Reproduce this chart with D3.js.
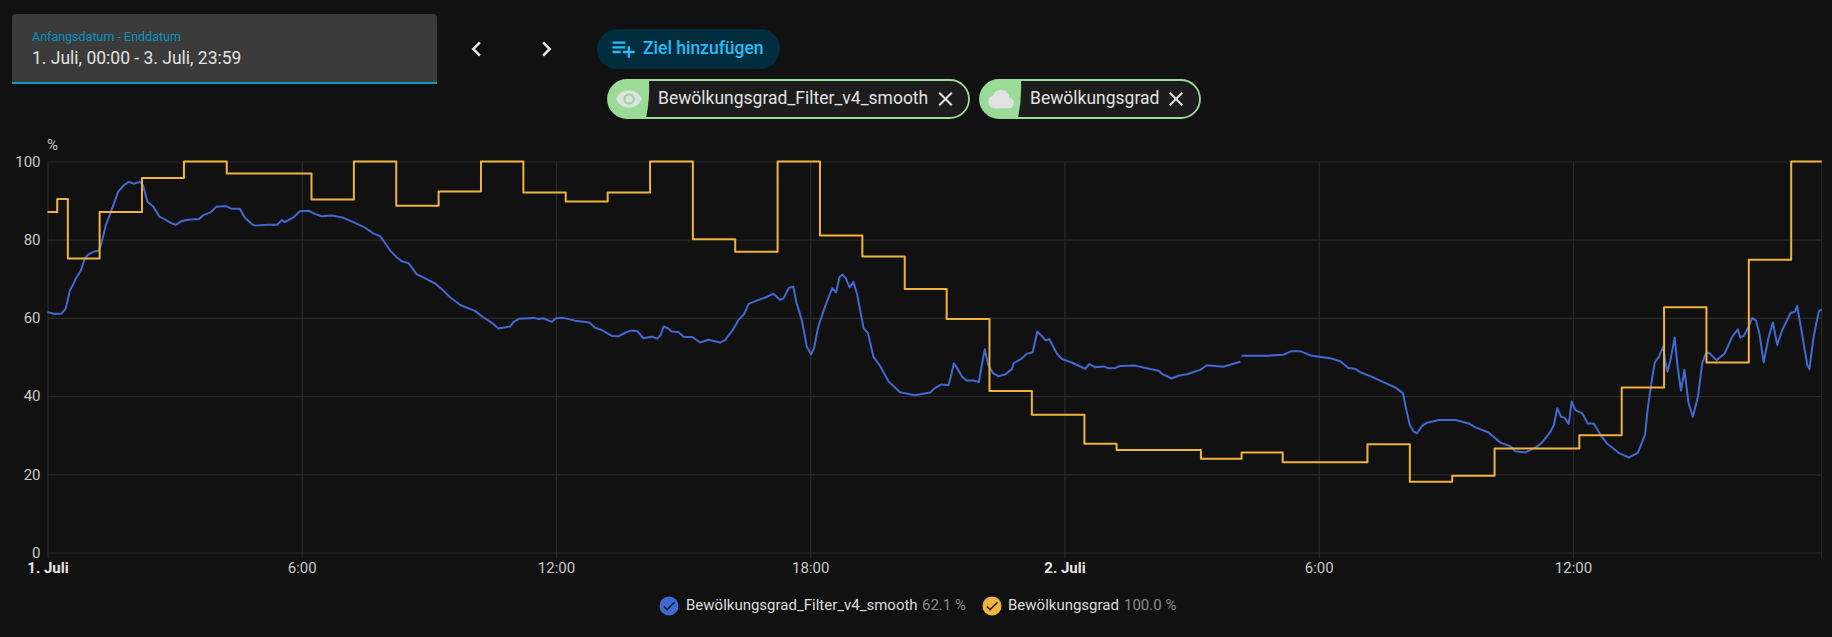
<!DOCTYPE html>
<html>
<head>
<meta charset="utf-8">
<script src="https://cdn.jsdelivr.net/npm/d3@7"></script>
<style>
  html, body { margin: 0; padding: 0; background: #111111; overflow: hidden; }
  svg { display: block; font-family: Roboto, sans-serif; }
</style>
</head>
<body>
<script>
// hours since 1. Juli 00:00
const stepHours = [0,0.23,0.48,1.23,2.23,3.22,4.23,6.23,7.23,8.23,9.23,10.23,11.23,12.23,13.22,14.22,15.23,16.23,17.23,18.23,19.23,20.23,21.22,22.23,23.23,24.47,25.23,27.22,28.18,29.15,31.15,32.15,33.15,34.15,36.15,37.15,38.15,39.15,40.15,41.15,41.87];
const stepValues = [87.1,90.4,75.2,87.1,95.8,100,96.9,90.3,100,88.7,92.3,100,92.1,89.8,92.1,100,80.1,76.9,100,81.1,75.7,67.4,59.7,41.3,35.2,27.8,26.2,24,25.6,23.1,27.7,18.1,19.6,26.6,30,42.2,62.7,48.6,74.9,100,100];

const smoothHours = [
  0,.17,.33,.43,.53,.59,.67,.79,.88,.96,1.08,1.21,1.26,1.38,1.54,1.67,1.81,1.92,2.04,2.18,2.25,2.36,2.5,2.64,2.77,2.93,3.03,3.17,3.32,3.58,3.68,3.85,3.98,4.21,4.35,4.54,4.66,4.82,4.9,5.17,5.42,5.53,5.6,5.8,5.96,6.16,6.31,6.47,6.71,6.98,7.22,7.46,7.69,7.85,7.97,8.09,8.24,8.36,8.52,8.71,8.91,9.15,9.31,9.5,9.74,
  10.09,10.29,10.48,10.64,10.92,11,11.14,11.47,11.59,11.7,11.9,12,12.18,12.45,12.79,12.92,13.08,13.32,13.47,13.63,13.79,13.92,14.06,14.26,14.39,14.47,14.54,14.65,14.73,14.89,15.01,15.22,15.4,15.6,15.87,15.99,16.19,16.31,16.44,16.55,16.78,16.94,17.13,17.29,17.37,17.5,17.6,17.68,17.8,17.92,18.02,18.09,18.19,18.35,18.47,18.52,18.61,18.69,18.76,18.84,18.93,19.02,19.11,19.26,19.36,19.49,19.65,19.85,20,20.12,
  20.47,20.83,20.95,21.1,21.26,21.32,21.39,21.47,21.58,21.69,21.85,21.98,22.05,22.12,22.2,22.32,22.44,22.6,22.76,22.8,22.99,23.11,23.25,23.36,23.46,23.56,23.64,23.82,23.94,24.17,24.49,24.59,24.72,24.92,25.04,25.2,25.31,25.67,25.86,26.22,26.3,26.53,26.69,26.89,27.2,27.36,27.75,28.15,28.165,
  28.18,28.77,29.17,29.36,29.56,29.84,30.27,30.51,30.7,30.86,30.98,31.26,31.5,31.81,31.99,32.05,32.15,32.24,32.32,32.44,32.56,32.83,33.23,33.54,33.7,34.01,34.29,34.53,34.64,34.88,35.12,35.27,35.47,35.55,35.63,35.72,35.8,35.9,35.97,36.06,36.22,36.35,36.49,36.65,36.81,37.08,37.32,37.53,37.7,37.77,37.85,37.93,38.03,38.13,38.18,38.23,38.3,38.4,38.47,38.55,38.63,38.73,38.83,38.95,39.05,39.13,39.21,39.39,39.58,39.76,39.89,39.95,40.03,40.15,40.23,40.32,40.4,40.5,40.62,40.72,40.82,40.94,41.13,41.24,41.29,41.39,41.53,41.58,41.68,41.8,41.87
];
const smoothValues = [
  61.5,61,61.1,62.4,67.1,68.2,70.1,72.2,75.2,76.2,76.9,77.2,78.6,83.8,88.4,92.3,94,94.8,94.3,94.8,94,89.7,88.4,85.9,85.2,84.2,83.8,84.8,85.1,85.3,86.3,87,88.4,88.6,87.9,87.9,85.6,84,83.6,83.8,83.8,85,84.5,85.7,87.3,87.4,86.6,86,86.2,85.6,84.5,83.3,81.6,80.9,79.1,77.2,75.5,74.5,74,71.2,70.1,68.8,67.3,65.3,63.3,
  61.8,60.1,58.8,57.3,57.8,59,59.8,60,59.7,59.9,59,59.9,60,59.3,58.8,57.5,56.9,55.4,55.3,56.2,56.8,56.6,54.8,55.2,54.7,55.6,57.8,57.3,56.5,56.4,55.2,55.1,53.7,54.4,53.7,54.3,57.2,59.5,61,63.6,64.6,65.2,66.2,64.6,65,67.7,68,63.7,59.5,52.6,50.7,52.2,57.8,62.9,66.3,67.6,66.5,70.4,71.1,70.1,67.8,69.2,65.9,57.3,56.2,50.1,47.7,43.7,42.2,41,
  40.2,40.9,42.1,43,42.8,45,48.4,47.1,45,44,44,43.6,48,52,48,45.8,45.1,45.5,46.9,48.4,49.6,50.8,51.2,56.5,55.4,54.2,54.6,50.9,49.5,48.6,47,48.2,47.4,47.6,47.1,47.2,47.7,47.8,47.3,46.5,45.7,44.5,45.2,45.6,46.7,47.9,47.5,48.8,null,
  50.3,50.3,50.6,51.5,51.5,50.3,49.7,48.9,47.2,47,46.1,44.9,43.7,42.2,40.7,37.3,32.6,30.9,30.5,32.4,33.2,33.9,33.9,33,32,30.7,28.1,27.1,25.9,25.6,26.9,28.1,30.9,32.6,36.9,34.7,34.5,32.9,38.6,36.4,35.6,33,33,30.1,27.8,25.5,24.3,25.5,30.1,37.3,43.3,48.6,50.1,52.7,48.8,46.2,49.2,55,47.5,41.4,46.7,38.1,34.7,39.9,48.4,50.8,51.1,49.2,50.9,55.2,57.1,55,55.4,57.8,60,59.3,56,48.6,55.2,58.8,53.1,56.9,61.2,61.6,63.1,56.9,48,46.9,55.2,61.6,62.2
];

const yTicks = [0,20,40,60,80,100];
const xTickHours = [0,6,12,18,24,30,36];
const xTickLabels = ["1. Juli","6:00","12:00","18:00","2. Juli","6:00","12:00"];
const xMajor = ["1. Juli","2. Juli"];

const seriesNames = ["Bewölkungsgrad_Filter_v4_smooth","Bewölkungsgrad"];
const seriesLatest = ["62.1 %","100.0 %"];

const w = 1832, h = 637;
const plotLeft = 47.5, plotRight = 1821.7, plotTop = 161.5, plotBottom = 552.5;
const BLUE = "#4169d1", YELLOW = "#f1b33e", GRID = "#2a2a2a", GREEN = "#9bdb98";

const ICONS = {
  eye: "M12,9A3,3 0 0,0 9,12A3,3 0 0,0 12,15A3,3 0 0,0 15,12A3,3 0 0,0 12,9M12,17A5,5 0 0,1 7,12A5,5 0 0,1 12,7A5,5 0 0,1 17,12A5,5 0 0,1 12,17M12,4.5C7,4.5 2.73,7.61 1,12C2.73,16.39 7,19.5 12,19.5C17,19.5 21.27,16.39 23,12C21.27,7.61 17,4.5 12,4.5Z",
  cloud: "M6.5 20Q4.22 20 2.61 18.43 1 16.85 1 14.58 1 12.63 2.17 11.1 3.35 9.57 5.25 9.15 5.88 6.85 7.75 5.43 9.63 4 12 4 14.93 4 16.96 6.04 19 8.07 19 11 20.73 11.2 21.86 12.5 23 13.78 23 15.5 23 17.38 21.69 18.69 20.38 20 18.5 20Z",
  add: "M3 16H10V14H3M18 14V10H16V14H12V16H16V20H18V16H22V14M14 6H3V8H14M14 10H3V12H14V10Z",
  prev: "M15.41,16.58L10.83,12L15.41,7.41L14,6L8,12L14,18L15.41,16.58Z",
  next: "M8.59,16.58L13.17,12L8.59,7.41L10,6L16,12L10,18L8.59,16.58Z",
  close: "M19,6.41L17.59,5L12,10.59L6.41,5L5,6.41L10.59,12L5,17.59L6.41,19L12,13.41L17.59,19L19,17.59L13.41,12L19,6.41Z",
  check: "M21,7L9,19L3.5,13.5L4.91,12.09L9,16.17L19.59,5.59L21,7Z"
};

const svg = d3.select("body").append("svg").attr("width", w).attr("height", h);

function icon(name, cx, cy, size, color) {
  svg.append("path")
    .attr("d", ICONS[name])
    .attr("fill", color)
    .attr("transform", `translate(${cx - size / 2},${cy - size / 2}) scale(${size / 24})`);
}

function label(txt, x, y, size, color, opts = {}) {
  return svg.append("text")
    .attr("x", x).attr("y", y)
    .attr("font-size", size)
    .attr("font-weight", opts.weight || 400)
    .attr("text-anchor", opts.anchor || "start")
    .attr("dominant-baseline", "central")
    .attr("fill", color)
    .text(txt);
}

// date range field
svg.append("path")
  .attr("d", "M12,84V18a4,4 0 0 1 4,-4H433a4,4 0 0 1 4,4V84Z")
  .attr("fill", "#3b3b3b");
svg.append("rect").attr("x", 12).attr("y", 82).attr("width", 425).attr("height", 2).attr("fill", "#0a9ac7");
label("Anfangsdatum - Enddatum", 32, 36, 12.5, "#0a93bf");
label("1. Juli, 00:00 - 3. Juli, 23:59", 32, 58, 17.5, "#e1e1e1");
icon("prev", 476.5, 49, 30, "#e8e8e8");
icon("next", 546.5, 49, 30, "#e8e8e8");

// add target button
svg.append("rect").attr("x", 597).attr("y", 29).attr("width", 183).attr("height", 40).attr("rx", 20).attr("fill", "#012d3e");
icon("add", 623, 48.5, 28, "#27bdf4");
label("Ziel hinzufügen", 643, 48, 17.5, "#27bdf4", { weight: 500 });

// chips
const chips = [
  { x: 608, x2: 969, textX: 658, closeX: 945.5, name: seriesNames[0], ic: "eye" },
  { x: 980, x2: 1200, textX: 1030, closeX: 1176, name: seriesNames[1], ic: "cloud" }
];
chips.forEach(c => {
  svg.append("rect").attr("x", c.x).attr("y", 80).attr("width", c.x2 - c.x).attr("height", 38)
    .attr("rx", 19).attr("fill", "#1c1c1c").attr("stroke", GREEN).attr("stroke-width", 1.8);
  svg.append("path")
    .attr("d", `M${c.x + 19},80A19,19 0 0 0 ${c.x + 19},118H${c.x + 38}Q${c.x + 42},99 ${c.x + 41},80Z`)
    .attr("fill", GREEN);
  icon(c.ic, c.x + 21, 99, 28, "#e1e1e1");
  label(c.name, c.textX, 97.5, 17.5, "#e1e1e1");
  icon("close", c.closeX, 99, 24, "#e1e1e1");
});

// scales
const x = d3.scaleLinear().domain([0, 41.87]).range([plotLeft, plotRight]);
const y = d3.scaleLinear().domain([0, 100]).range([plotBottom, plotTop]);

// axes, gridlines come from long ticks
const yAxis = d3.axisLeft(y).tickValues(yTicks).tickSize(-(plotRight - plotLeft)).tickPadding(7);
const gy = svg.append("g").attr("transform", `translate(${plotLeft},0)`).call(yAxis);
gy.select(".domain").remove();
gy.selectAll("line").attr("stroke", GRID).attr("stroke-width", 1.2);
gy.selectAll("text").attr("fill", "#c8c8c8").attr("font-size", 15).attr("font-family", "Roboto");

const xAxis = d3.axisBottom(x).tickValues(xTickHours)
  .tickFormat((d, i) => xTickLabels[i])
  .tickSize(-(plotBottom - plotTop)).tickPadding(10);
const gx = svg.append("g").attr("transform", `translate(0,${plotBottom})`).call(xAxis);
gx.select(".domain").remove();
gx.selectAll("line").attr("stroke", GRID).attr("stroke-width", 1.2).attr("y2", -(plotBottom - plotTop)).attr("y1", 6);
gx.selectAll("text")
  .attr("font-size", 15).attr("font-family", "Roboto")
  .attr("y", 10)
  .attr("font-weight", (d, i) => xMajor.includes(xTickLabels[i]) ? 700 : 400)
  .attr("fill", (d, i) => xMajor.includes(xTickLabels[i]) ? "#e6e6e6" : "#c8c8c8");
svg.append("line").attr("x1", plotRight).attr("x2", plotRight).attr("y1", plotTop).attr("y2", plotBottom + 6)
  .attr("stroke", GRID).attr("stroke-width", 1.2);

label("%", 52.5, 145, 15, "#c8c8c8", { anchor: "middle" });

// lines
const stepLine = d3.line().x((d, i) => x(stepHours[i])).y(d => y(d)).curve(d3.curveStepAfter);
const smoothLine = d3.line().defined(d => d !== null).x((d, i) => x(smoothHours[i])).y(d => y(d));

svg.append("path").attr("d", smoothLine(smoothValues)).attr("fill", "none")
  .attr("stroke", BLUE).attr("stroke-width", 2).attr("stroke-linejoin", "round");
svg.append("path").attr("d", stepLine(stepValues)).attr("fill", "none")
  .attr("stroke", YELLOW).attr("stroke-width", 2).attr("stroke-linejoin", "round");

// legend
const legend = [
  { cx: 669, textX: 686, valX: 922, color: BLUE },
  { cx: 992, textX: 1008, valX: 1124, color: YELLOW }
];
legend.forEach((l, i) => {
  svg.append("circle").attr("cx", l.cx).attr("cy", 606).attr("r", 9.5).attr("fill", l.color);
  icon("check", l.cx, 606, 16, "#111111");
  label(seriesNames[i], l.textX, 605, 15, "#dcdcdc");
  label(seriesLatest[i], l.valX, 605, 15, "#8a8a8a");
});
</script>
</body>
</html>
